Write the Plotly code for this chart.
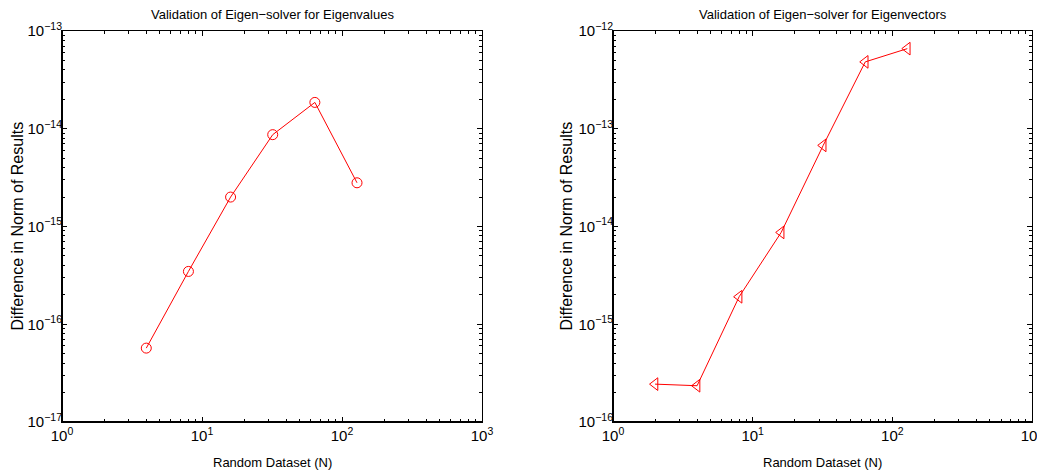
import plotly.graph_objects as go
from plotly.subplots import make_subplots

# Data
n_values = [4, 8, 16, 32, 64, 128]
err_eigenvalues = [5.7e-17, 3.47e-16, 2.0e-15, 8.7e-15, 1.86e-14, 2.8e-15]

n_vectors = [2, 4, 8, 16, 32, 64, 128]
err_eigenvectors = [2.44e-16, 2.35e-16, 1.91e-15, 8.7e-15, 6.76e-14, 4.83e-13, 6.6e-13]

x_tickvals = [1, 10, 100, 1000]
x_ticktext = ["10<sup>0</sup>", "10<sup>1</sup>", "10<sup>2</sup>", "10<sup>3</sup>"]
y1_tickvals = [1e-17, 1e-16, 1e-15, 1e-14, 1e-13]
y1_ticktext = ["10<sup>−17</sup>", "10<sup>−16</sup>", "10<sup>−15</sup>", "10<sup>−14</sup>", "10<sup>−13</sup>"]
y2_tickvals = [1e-16, 1e-15, 1e-14, 1e-13, 1e-12]
y2_ticktext = ["10<sup>−16</sup>", "10<sup>−15</sup>", "10<sup>−14</sup>", "10<sup>−13</sup>", "10<sup>−12</sup>"]

titles = ["Validation of Eigen−solver for Eigenvalues", "Validation of Eigen−solver for Eigenvectors"]
xlabel = "Random Dataset (N)"
ylabel = "Difference in Norm of Results"

FONT = "Liberation Sans, Arial, sans-serif"


def minor_vals(decades):
    return [m * d for d in decades[:-1] for m in range(2, 10)]


fig = make_subplots(rows=1, cols=2)

fig.add_trace(go.Scatter(
    x=n_values, y=err_eigenvalues, mode="lines+markers",
    line=dict(color="#ff0000", width=1),
    marker=dict(symbol="circle-open", size=10, color="#ff0000", line=dict(width=1)),
    showlegend=False), row=1, col=1)

fig.add_trace(go.Scatter(
    x=n_vectors, y=err_eigenvectors, mode="lines+markers",
    line=dict(color="#ff0000", width=1),
    marker=dict(symbol="triangle-left-open", size=11, color="#ff0000", line=dict(width=1)),
    showlegend=False), row=1, col=2)

# Page body has an 8px offset; figure sized to fit the window
W, H = 1037, 464
ml, mr, mt, mb = 54, 13, 23, 50
pw = W - ml - mr
d1 = [0, 420 / pw]
d2 = [551 / pw, 1.0]

common = dict(
    type="log", tickmode="array", ticks="inside", ticklen=5, tickwidth=1, tickcolor="black",
    showline=True, linecolor="black", linewidth=1, mirror="allticks",
    showgrid=False, zeroline=False, automargin=False, ticklabeloverflow="allow",
    tickfont=dict(family=FONT, size=15, color="black"),
)


def minor(vals):
    return dict(tickmode="array", tickvals=vals, ticks="inside", ticklen=3, tickwidth=1,
                tickcolor="black", showgrid=False)


fig.update_xaxes(domain=d1, range=[0, 3], tickvals=x_tickvals, ticktext=x_ticktext,
                 minor=minor(minor_vals(x_tickvals)), **common, row=1, col=1)
fig.update_xaxes(domain=d2, range=[0, 3], tickvals=x_tickvals, ticktext=x_ticktext,
                 minor=minor(minor_vals(x_tickvals)), **common, row=1, col=2)
fig.update_yaxes(range=[-17, -13], tickvals=y1_tickvals, ticktext=y1_ticktext,
                 minor=minor(minor_vals(y1_tickvals)), ticklabelstandoff=-4, **common, row=1, col=1)
fig.update_yaxes(range=[-16, -12], tickvals=y2_tickvals, ticktext=y2_ticktext,
                 minor=minor(minor_vals(y2_tickvals)), ticklabelstandoff=-4, **common, row=1, col=2)

# Heavier left and bottom axis lines
for xa, ya in [("x", "y"), ("x2", "y2")]:
    fig.add_shape(type="line", xref=f"{xa} domain", yref=f"{ya} domain",
                  x0=0, x1=1, y0=0, y1=0, line=dict(color="black", width=2))
    fig.add_shape(type="line", xref=f"{xa} domain", yref=f"{ya} domain",
                  x0=0, x1=0, y0=0, y1=1, line=dict(color="black", width=2))

for dom, t in zip([d1, d2], titles):
    cx = (dom[0] + dom[1]) / 2
    fig.add_annotation(text=t, x=cx, y=1, xref="paper", yref="paper", yshift=17,
                       showarrow=False, xanchor="center", yanchor="middle",
                       font=dict(family=FONT, size=13, color="black"))
    fig.add_annotation(text=xlabel, x=cx, y=0, xref="paper", yref="paper", yshift=-40,
                       showarrow=False, xanchor="center", yanchor="middle",
                       font=dict(family=FONT, size=13, color="black"))

for px in [9, 558]:
    fig.add_annotation(text=ylabel, x=(px - ml) / pw, y=0.5, xref="paper", yref="paper",
                       textangle=-90, showarrow=False, xanchor="center", yanchor="middle",
                       font=dict(family=FONT, size=16, color="black"))

fig.update_layout(
    width=W, height=H,
    margin=dict(l=ml, r=mr, t=mt, b=mb, autoexpand=False),
    paper_bgcolor="white", plot_bgcolor="white",
    font=dict(family=FONT, size=12, color="black"),
)

fig.write_html("out.html")
